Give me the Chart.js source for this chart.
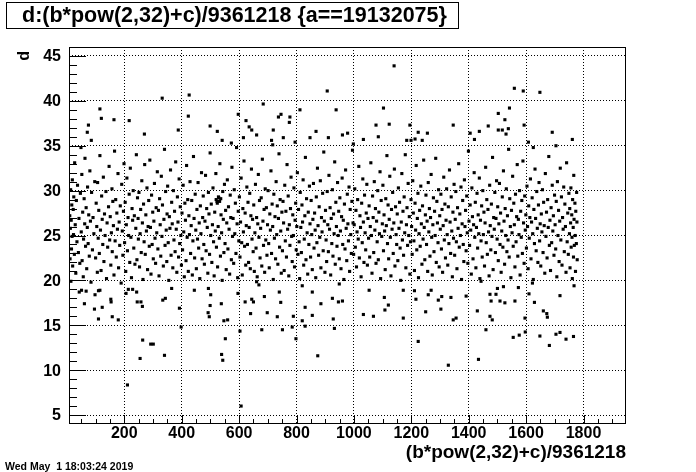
<!DOCTYPE html>
<html>
<head>
<meta charset="utf-8">
<script src="https://cdn.jsdelivr.net/npm/chart.js@4.4.1/dist/chart.umd.min.js"></script>
<style>
body { margin: 0; background: #fff; }
canvas { display: block; }
</style>
</head>
<body>
<canvas id="c" width="696" height="472"></canvas>
<script>
var titleText = 'd:(b*pow(2,32)+c)/9361218 {a==19132075}'
var xTitle = '(b*pow(2,32)+c)/9361218'
var yTitle = 'd'
var stamp = 'Wed May  1 18:03:24 2019'

var xTicks = [200, 400, 600, 800, 1000, 1200, 1400, 1600, 1800]
var yTicks = [5, 10, 15, 20, 25, 30, 35, 40, 45]
var xRange = [7.3, 1948]
var yRange = [4, 46]

// main band, x < 600
var bandA = [
[10,27.2],[11,22.4],[12,25.8],[13,30.1],[14,19.9],[15,26.7],[16,23.5],[17,28.4],[18,24.9],[19,31.2],[20,21.6],[22,27.9],[23,25.1],[24,29.3],[26,22.9],[27,33.1],[29,26.2],[31,20.8],[33,28.9],[35,24.3],[37,30.6],[40,23.1],[42,26.9],[45,21.9],[47,29.7],
[50,25.4],[52,31.8],[53,22.2],[55,27.6],[57,20.4],[58,24.6],[60,29.1],[62,26.3],[63,33.6],[65,23.8],[67,28.1],[69,21.3],[71,25.9],[72,30.4],[74,24.1],[76,27.3],[78,22.7],[80,32.2],[82,26.6],[84,19.8],[86,29.8],[89,23.4],[91,27.0],[94,25.2],[97,31.0],
[100,22.5],[102,28.6],[104,26.0],[106,20.9],[107,30.9],[109,24.7],[111,27.8],[113,23.0],[115,33.9],[117,25.6],[119,21.1],[121,29.4],[123,26.8],[125,24.0],[127,31.5],[129,22.1],[131,27.4],[133,25.0],[136,29.9],[138,20.2],[140,26.4],[142,23.7],[145,28.2],[147,32.7],[149,24.5],
[151,27.1],[153,21.7],[155,25.3],[157,30.2],[158,23.2],[160,28.8],[162,26.1],[164,20.6],[166,34.4],[168,24.4],[170,29.0],[172,22.6],[174,27.5],[176,25.7],[178,31.9],[180,21.4],[182,26.5],[184,23.9],[186,28.3],[189,19.7],[191,30.7],[193,25.5],[195,22.8],[197,27.7],[199,33.0],
[201,24.2],[203,28.7],[205,21.0],[207,26.2],[209,31.4],[211,23.3],[213,27.0],[215,25.0],[217,29.6],[219,22.0],[221,32.5],[223,24.8],[225,20.3],[227,28.0],[229,26.7],[231,30.0],[233,23.6],[235,27.2],[237,21.8],[240,25.8],[242,34.0],[244,22.3],[246,29.2],[248,26.9],[249,24.6],
[251,29.8],[253,21.5],[255,25.2],[257,27.9],[259,23.1],[261,31.1],[263,26.4],[265,20.1],[267,28.5],[269,24.3],[271,32.9],[273,22.9],[275,27.3],[277,25.5],[279,30.3],[281,21.2],[283,26.0],[285,28.9],[287,23.8],[289,33.4],[291,25.9],[293,20.7],[295,29.5],[297,24.0],[299,27.6],
[301,22.4],[303,26.6],[305,30.8],[307,24.7],[309,21.9],[311,28.1],[313,25.3],[315,32.1],[317,23.5],[319,27.8],[321,20.5],[323,29.1],[325,26.2],[327,22.7],[329,31.6],[331,24.9],[333,28.4],[336,21.6],[338,26.8],[340,34.6],[342,23.9],[344,29.9],[346,25.6],[348,22.1],[349,27.4],
[351,30.5],[353,24.2],[355,20.0],[357,27.1],[359,25.8],[361,32.3],[363,22.8],[365,28.7],[367,26.3],[369,21.4],[371,30.0],[373,24.5],[375,27.7],[377,23.2],[379,33.2],[381,25.7],[383,20.9],[385,29.3],[387,26.5],[389,22.6],[391,31.3],[393,24.1],[395,28.2],[397,25.0],[399,21.7],
[401,27.5],[403,23.4],[405,30.6],[407,25.4],[409,20.4],[411,28.6],[413,26.7],[415,22.2],[417,32.8],[419,24.8],[421,29.0],[423,21.0],[425,27.2],[427,25.1],[429,31.0],[431,23.0],[433,26.1],[435,28.9],[437,20.6],[439,24.4],[441,33.8],[443,26.9],[445,22.5],[447,29.6],[449,25.6],
[451,21.3],[453,27.9],[455,24.6],[457,30.9],[459,23.6],[461,26.4],[463,20.2],[465,28.3],[467,25.2],[469,32.0],[471,22.4],[473,27.0],[475,29.4],[477,24.0],[479,21.8],[481,26.6],[483,31.7],[485,23.3],[487,28.0],[489,25.9],[491,20.8],[493,29.8],[495,27.4],[497,22.9],[499,34.2],
[501,25.0],[503,28.5],[505,22.0],[507,26.2],[509,30.3],[511,24.3],[513,20.5],[515,27.6],[517,25.5],[519,31.9],[521,23.7],[523,28.8],[525,21.5],[527,26.0],[529,29.2],[531,24.7],[533,33.0],[535,22.7],[537,27.3],[539,25.3],[541,20.0],[543,29.9],[545,26.8],[547,23.1],[549,30.7],
[520,29.0],[524,28.6],[528,29.3],[532,28.8],[536,29.1],
[551,24.1],[553,27.8],[555,21.2],[557,26.4],[559,31.2],[561,23.5],[563,28.2],[565,25.7],[567,20.7],[569,29.5],[571,27.0],[573,22.3],[575,32.6],[577,24.9],[579,26.9],[581,21.9],[583,30.1],[585,25.2],[587,28.6],[589,23.0],[591,34.8],[593,26.3],[595,20.3],[597,27.7],[599,24.4]
]

// main band, 600 - 1200
var bandB = [
[601,29.3],[603,22.6],[605,26.5],[607,31.4],[609,24.2],[611,20.6],[613,28.0],[615,25.4],[617,33.3],[619,23.8],[621,27.5],[623,21.7],[625,26.1],[627,30.4],[629,24.0],[631,28.7],[633,22.0],[635,25.9],[637,29.7],[639,21.3],[641,27.2],[643,32.4],[645,24.6],[647,26.8],[649,23.2],
[651,28.4],[653,21.0],[655,25.3],[657,30.7],[659,23.6],[661,27.0],[663,20.4],[665,26.3],[667,31.8],[669,24.8],[671,28.9],[673,22.5],[675,25.8],[677,29.2],[679,21.6],[681,33.5],[683,26.6],[685,23.9],[687,27.9],[689,20.9],[691,30.2],[693,24.5],[695,28.1],[697,22.8],[699,26.2],
[701,30.0],[703,24.1],[705,21.4],[707,27.4],[709,25.6],[711,32.2],[713,23.0],[715,28.5],[717,26.0],[719,20.1],[721,29.6],[723,24.7],[725,27.1],[727,22.4],[729,31.0],[731,25.1],[733,28.3],[735,21.8],[737,26.9],[739,34.1],[741,23.7],[743,29.0],[745,25.5],[747,20.8],[749,27.6],
[751,23.3],[753,28.8],[755,26.4],[757,21.1],[759,30.6],[761,24.4],[763,27.7],[765,22.6],[767,32.9],[769,25.7],[771,29.4],[773,20.5],[775,26.2],[777,23.9],[779,28.0],[781,31.5],[783,24.9],[785,22.1],[787,27.3],[789,25.0],[791,30.3],[793,21.5],[795,26.7],[797,28.6],[799,23.4],
[801,26.0],[803,32.0],[805,22.9],[807,27.9],[809,24.3],[811,20.2],[813,29.8],[815,25.9],[817,23.1],[819,28.4],[821,26.5],[823,31.2],[825,21.7],[827,24.6],[829,27.2],[831,33.7],[833,22.3],[835,29.1],[837,25.3],[839,20.7],[841,27.6],[843,24.0],[845,30.5],[847,26.3],[849,22.6],
[851,28.9],[853,25.1],[855,21.2],[857,26.8],[859,30.8],[861,23.6],[863,27.5],[865,25.6],[867,20.3],[869,29.3],[871,24.2],[873,32.5],[875,26.1],[877,22.8],[879,28.2],[881,24.8],[883,31.1],[885,21.4],[887,27.0],[889,25.4],[891,29.7],[893,23.3],[895,34.3],[897,26.6],[899,20.9],
[901,27.8],[903,24.5],[905,22.1],[907,29.9],[909,26.2],[911,23.2],[913,31.7],[915,25.7],[917,28.1],[919,20.6],[921,26.9],[923,24.1],[925,30.1],[927,22.7],[929,27.4],[931,25.2],[933,33.2],[935,21.8],[937,28.7],[939,26.0],[941,23.8],[943,30.9],[945,25.0],[947,27.7],[949,22.4],
[951,29.2],[953,25.5],[955,21.3],[957,27.1],[959,31.4],[961,24.0],[963,26.7],[965,20.1],[967,28.5],[969,23.5],[971,32.3],[973,25.8],[975,22.2],[977,29.6],[979,26.3],[981,24.4],[983,30.4],[985,21.0],[987,27.9],[989,25.1],[991,23.0],[993,28.8],[995,34.5],[997,26.4],[999,22.9],
[1001,26.2],[1003,30.2],[1005,23.7],[1007,27.8],[1009,21.5],[1011,25.4],[1013,29.0],[1015,24.6],[1017,32.7],[1019,22.5],[1021,27.2],[1023,25.9],[1025,20.4],[1027,28.6],[1029,24.2],[1031,31.3],[1033,26.5],[1035,22.0],[1037,29.5],[1039,25.3],[1041,23.4],[1043,27.5],[1045,30.7],[1047,21.7],[1049,26.9],
[1051,24.7],[1053,28.3],[1055,22.6],[1057,26.0],[1059,33.1],[1061,25.0],[1063,20.8],[1065,29.4],[1067,27.0],[1069,23.1],[1071,31.0],[1073,25.6],[1075,28.0],[1077,21.9],[1079,26.6],[1081,24.3],[1083,30.0],[1085,22.3],[1087,27.6],[1089,25.2],[1091,32.1],[1093,20.2],[1095,28.9],[1097,24.9],[1099,26.3],
[1101,30.6],[1103,23.3],[1105,27.3],[1107,25.5],[1109,21.2],[1111,29.1],[1113,26.1],[1115,33.9],[1117,24.1],[1119,28.4],[1121,22.4],[1123,26.8],[1125,31.6],[1127,24.8],[1129,20.5],[1131,27.9],[1133,25.7],[1135,29.8],[1137,23.0],[1139,26.4],[1141,32.4],[1143,21.6],[1145,28.2],[1147,25.1],[1149,24.0],
[1151,27.4],[1153,22.2],[1155,30.3],[1157,25.8],[1159,28.7],[1161,23.6],[1163,20.0],[1165,26.5],[1167,31.9],[1169,24.5],[1171,27.7],[1173,22.8],[1175,29.3],[1177,25.3],[1179,34.0],[1181,21.4],[1183,26.2],[1185,28.1],[1187,23.9],[1189,30.8],[1191,25.0],[1193,27.1],[1195,20.7],[1197,24.3],[1199,29.0]
]

// main band, 1200 and up
var bandC = [
[1201,26.0],[1203,22.9],[1205,31.1],[1207,27.5],[1209,24.4],[1211,21.1],[1213,28.6],[1215,25.6],[1217,32.8],[1219,23.4],[1221,26.9],[1223,29.7],[1225,20.3],[1227,25.2],[1229,27.8],[1231,23.8],[1233,30.5],[1235,26.3],[1237,21.8],[1239,28.3],[1241,24.6],[1243,33.4],[1245,25.9],[1247,22.3],[1249,27.3],
[1251,29.5],[1253,24.0],[1255,26.6],[1257,21.0],[1259,30.9],[1261,25.4],[1263,28.0],[1265,22.7],[1267,27.0],[1269,31.8],[1271,24.8],[1273,20.6],[1275,26.2],[1277,29.2],[1279,23.2],[1281,27.7],[1283,25.0],[1285,33.6],[1287,22.0],[1289,28.8],[1291,26.4],[1293,24.2],[1295,30.1],[1297,21.5],[1299,27.2],
[1301,25.7],[1303,29.6],[1305,23.5],[1307,27.9],[1309,20.9],[1311,26.1],[1313,31.5],[1315,24.5],[1317,28.5],[1319,22.5],[1321,26.7],[1323,30.2],[1325,25.1],[1327,21.7],[1329,28.2],[1331,24.1],[1333,32.3],[1335,26.5],[1337,23.0],[1339,29.3],[1341,25.5],[1343,20.4],[1345,27.6],[1347,24.7],[1349,30.7],
[1351,22.8],[1353,26.8],[1355,29.9],[1357,24.3],[1359,21.3],[1361,28.1],[1363,25.8],[1365,33.0],[1367,23.7],[1369,27.4],[1371,25.0],[1373,30.4],[1375,20.1],[1377,26.3],[1379,28.9],[1381,24.0],[1383,22.1],[1385,31.2],[1387,26.0],[1389,27.8],[1391,23.3],[1393,29.4],[1395,25.3],[1397,21.9],[1399,34.4],
[1401,26.6],[1403,23.9],[1405,28.4],[1407,25.6],[1409,20.7],[1411,30.3],[1413,27.1],[1415,22.4],[1417,26.2],[1419,32.0],[1421,24.8],[1423,28.7],[1425,21.4],[1427,25.9],[1429,29.7],[1431,23.6],[1433,27.3],[1435,25.2],[1437,31.4],[1439,20.2],[1441,26.7],[1443,24.4],[1445,28.3],[1447,22.6],[1449,30.0],
[1451,25.1],[1453,27.6],[1455,21.6],[1457,26.4],[1459,32.6],[1461,24.2],[1463,29.0],[1465,22.9],[1467,27.9],[1469,25.4],[1471,20.5],[1473,30.6],[1475,26.1],[1477,23.4],[1479,28.5],[1481,24.9],[1483,33.7],[1485,21.2],[1487,27.0],[1489,25.7],[1491,29.8],[1493,23.1],[1495,26.9],[1497,31.1],[1499,24.6],
[1501,28.2],[1503,22.2],[1505,26.3],[1507,30.8],[1509,24.0],[1511,27.5],[1513,20.9],[1515,25.5],[1517,29.3],[1519,23.7],[1521,32.2],[1523,26.6],[1525,21.8],[1527,28.0],[1529,25.0],[1531,30.2],[1533,23.2],[1535,27.2],[1537,24.5],[1539,34.6],[1541,22.6],[1543,29.1],[1545,26.0],[1547,20.3],[1549,27.8],
[1551,25.3],[1553,31.6],[1555,23.8],[1557,28.6],[1559,26.2],[1561,21.5],[1563,29.6],[1565,24.3],[1567,27.1],[1569,32.9],[1571,22.7],[1573,26.8],[1575,25.1],[1577,30.0],[1579,20.6],[1581,27.7],[1583,24.8],[1585,28.9],[1587,23.0],[1589,33.3],[1591,26.4],[1593,21.9],[1595,29.4],[1597,25.6],[1599,27.3],
[1601,23.6],[1603,30.5],[1605,26.0],[1607,21.3],[1609,28.3],[1611,24.7],[1613,27.0],[1615,31.3],[1617,22.4],[1619,26.5],[1621,29.2],[1623,25.2],[1625,20.1],[1627,27.9],[1629,24.1],[1631,32.4],[1633,26.9],[1635,23.3],[1637,29.9],[1639,25.8],[1641,22.0],[1643,28.4],[1645,30.9],[1647,24.4],[1649,26.3],
[1651,21.6],[1653,27.4],[1655,25.4],[1657,30.1],[1659,23.1],[1661,28.7],[1663,26.1],[1665,20.8],[1667,31.9],[1669,24.9],[1671,27.6],[1673,22.5],[1675,29.0],[1677,25.9],[1679,33.8],[1681,23.9],[1683,26.7],[1685,21.1],[1687,28.1],[1689,24.2],[1691,30.6],[1693,25.5],[1695,27.2],[1697,22.8],[1699,29.5],
[1701,26.2],[1703,23.5],[1705,28.8],[1707,20.4],[1709,31.0],[1711,25.0],[1713,27.8],[1715,22.1],[1717,26.6],[1719,32.5],[1721,24.5],[1723,29.3],[1725,21.7],[1727,27.0],[1729,25.7],[1731,30.4],[1733,23.2],[1735,28.5],[1737,26.0],[1739,20.9],[1741,33.1],[1743,24.3],[1745,27.5],[1747,22.9],[1749,29.7],
[1751,25.2],[1752,28.0],[1753,21.4],[1755,26.4],[1756,30.3],[1757,23.7],[1759,27.3],[1760,24.8],[1761,20.2],[1762,29.0],[1764,25.9],[1765,22.6],[1766,31.7],[1767,26.8],[1768,23.9],[1770,28.6],[1771,25.0],[1772,21.0],[1773,27.7],[1775,24.1],[1776,29.8],[1777,26.5],[1778,22.3]
]

// sparse points above the band
var hiPts = [
[332,40.3],[426,40.65],[115,39.1],[120,38.05],[164,37.9],[217,37.8],[75,37.3],[71,36.5],[85,35.6],[423,38.3],[388,36.75],[270,36.3],[499,37.2],[524,36.6],[541,35.6],[597,38.5],[573,35.3],[624,37.8],[635,37.1],[644,36.75],[615,35.9],[661,36.2],[49,34.8],
[1140,43.9],[907,41.1],[684,39.65],[812,39.0],[938,39.0],[1103,39.2],[746,38.5],[737,38.2],[777,38.2],[775,37.6],[719,36.75],[754,35.9],[713,35.6],[717,35.1],[795,35.4],[868,36.6],[847,35.9],[911,35.9],[960,36.2],[978,36.4],[998,35.2],[1033,35.7],[1077,37.3],[1123,37.4],[1085,36.0],[1184,35.6],[1199,35.6],[1213,35.75],[1195,37.3],[1224,36.5],[1256,36.4],[1238,35.6],
[1559,41.4],[1590,41.1],[1648,40.95],[1503,38.6],[1542,39.2],[1346,37.3],[1526,37.9],[1468,37.2],[1437,36.6],[1405,36.4],[1420,35.7],[1503,36.75],[1517,36.75],[1538,36.9],[1530,36.3],[1593,37.3],[1691,36.5],[1761,35.7],[1608,35.4],[1625,34.8],[1704,35.0]
]

// sparse points below the band
var loPts = [
[43,18.7],[51,18.9],[67,18.8],[61,17.4],[98,18.4],[110,18.85],[115,18.9],[96,16.8],[123,17.0],[110,15.7],[153,17.9],[154,17.6],[158,15.95],[179,15.6],[206,18.55],[214,19.0],[229,19.0],[243,18.7],[245,17.6],[263,17.1],[258,17.6],[264,13.35],[255,11.3],[292,12.9],[301,12.9],[340,11.65],[334,17.8],[343,18.0],[365,19.1],[392,16.9],[398,14.8],[444,18.9],[493,19.1],[501,18.4],[499,17.2],[492,16.4],[496,15.95],[538,17.4],[547,15.5],[560,15.6],[552,13.5],[539,11.75],[543,11.1],[596,18.55],[603,14.35],[607,6.0],[211,8.35],[621,17.6],[640,16.3],[644,17.9],[650,17.6],[661,19.85],[669,19.5],
[679,14.5],[698,16.4],[688,18.2],[733,15.95],[740,18.7],[745,17.55],[751,14.5],[785,14.8],[789,16.0],[798,13.5],[820,19.4],[820,15.5],[830,17.0],[830,14.9],[855,18.7],[855,16.1],[874,11.6],[885,17.4],[925,18.0],[928,15.7],[932,14.65],[946,17.6],[960,17.7],[949,19.6],[1033,16.2],[1068,16.0],[1053,18.9],[1106,18.1],[1108,16.7],[1120,17.25],[1172,15.8],[1172,18.9],[1211,18.85],[1216,17.9],[1224,13.2],[1250,16.5],[1259,18.4],[1269,18.9],[1294,17.8],[1306,18.2],[1303,16.8],[1329,10.55],
[1346,15.6],[1356,15.8],[1338,18.1],[1391,18.25],[1434,11.2],[1430,16.6],[1443,19.9],[1460,14.5],[1474,18.45],[1478,17.7],[1474,16.0],[1482,15.6],[1495,18.45],[1500,19.1],[1509,17.7],[1526,17.5],[1521,19.3],[1555,13.65],[1561,17.7],[1573,19.2],[1576,13.9],[1596,15.8],[1597,14.25],[1610,18.5],[1629,17.55],[1622,19.7],[1648,13.8],[1660,16.6],[1672,16.3],[1674,15.9],[1681,12.75],[1704,14.0],[1718,14.2],[1718,18.3],[1739,13.45],[1765,13.75],[1767,19.4]
]

var allPts = bandA.concat(bandB, bandC, hiPts, loPts).map(function (p) { return { x: p[0], y: p[1] } })

var font = '"Liberation Sans", Arial, Helvetica, sans-serif'

// ROOT style frame, inner ticks, labels and titles
var rootDeco = {
	id: 'rootDeco',
	afterDraw: function (chart) {
		var c = chart.ctx
		var a = chart.chartArea
		var sx = chart.scales.x
		var sy = chart.scales.y
		var v, p
		c.save()
		c.strokeStyle = '#000'
		c.lineWidth = 1
		c.strokeRect(a.left + 0.5, a.top + 0.5, a.right - a.left - 1, a.bottom - a.top - 1)

		c.beginPath()
		for (v = 50; v < xRange[1]; v += 50) {
			p = Math.round(sx.getPixelForValue(v)) + 0.5
			c.moveTo(p, a.bottom)
			c.lineTo(p, a.bottom - (v % 200 ? 5 : 9))
		}
		for (v = 5; v <= 45; v++) {
			p = Math.round(sy.getPixelForValue(v)) + 0.5
			c.moveTo(a.left, p)
			c.lineTo(a.left + (v % 5 ? 8 : 17), p)
		}
		c.stroke()

		c.fillStyle = '#000'
		c.font = 'bold 16px ' + font
		c.textAlign = 'center'
		c.textBaseline = 'alphabetic'
		xTicks.forEach(function (t) { c.fillText(String(t), sx.getPixelForValue(t), 438) })
		c.textAlign = 'right'
		c.textBaseline = 'middle'
		yTicks.forEach(function (t) { c.fillText(String(t), 61, sy.getPixelForValue(t) + 1) })

		// axis titles
		c.font = 'bold 19px ' + font
		c.textAlign = 'right'
		c.textBaseline = 'alphabetic'
		c.fillText(xTitle, a.right, 458)
		c.save()
		c.translate(29, 51)
		c.rotate(-Math.PI / 2)
		c.font = 'bold 16px ' + font
		c.textAlign = 'right'
		c.fillText(yTitle, 0, 0)
		c.restore()

		// title box
		c.fillStyle = '#fff'
		c.fillRect(6, 2, 452, 26)
		c.strokeRect(6.5, 2.5, 452, 26)
		c.fillStyle = '#000'
		c.font = 'bold 21.5px ' + font
		c.textAlign = 'left'
		c.fillText(titleText, 22, 22)

		// date stamp
		c.font = 'bold 10.5px ' + font
		c.fillText(stamp, 5, 470)
		c.restore()
	}
}

new Chart(document.getElementById('c'), {
	type: 'scatter',
	data: {
		datasets: [{
			data: allPts,
			pointStyle: 'rect',
			radius: 2.2,
			borderWidth: 0,
			backgroundColor: '#000',
			hoverRadius: 2.2
		}]
	},
	options: {
		responsive: false,
		animation: false,
		devicePixelRatio: 1,
		layout: { padding: { top: 47, right: 70, left: 0, bottom: 0 } },
		plugins: { legend: { display: false }, tooltip: { enabled: false } },
		scales: {
			x: {
				type: 'linear',
				min: xRange[0],
				max: xRange[1],
				afterBuildTicks: function (s) { s.ticks = xTicks.map(function (v) { return { value: v } }) },
				afterFit: function (s) { s.height = 48 },
				ticks: { display: false },
				grid: { color: '#000', lineWidth: 1, drawTicks: false },
				border: { display: false, dash: [1, 2] }
			},
			y: {
				type: 'linear',
				min: yRange[0],
				max: yRange[1],
				afterBuildTicks: function (s) { s.ticks = yTicks.map(function (v) { return { value: v } }) },
				afterFit: function (s) { s.width = 69 },
				ticks: { display: false },
				grid: { color: '#000', lineWidth: 1, drawTicks: false },
				border: { display: false, dash: [1, 2] }
			}
		}
	},
	plugins: [rootDeco]
})
</script>
</body>
</html>
